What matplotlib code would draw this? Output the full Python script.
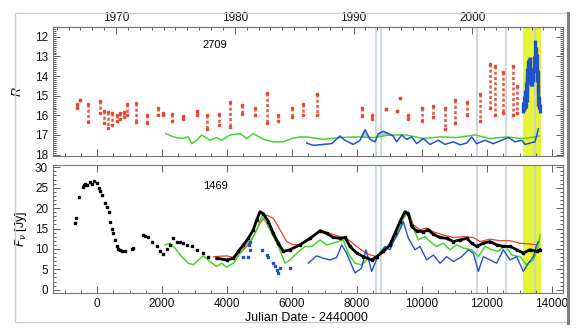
import numpy as np
import matplotlib.pyplot as plt
from matplotlib.ticker import MultipleLocator, FixedLocator
from matplotlib.patches import Rectangle
from matplotlib.lines import Line2D

plt.rcParams['font.family'] = ['Liberation Sans', 'DejaVu Sans']

# ---------------- top panel: R magnitudes (JD - 2440000) ----------------
# red photographic points, one streak per season (bright end, faint end)
red_jd = [-628, -523, -267, 92, 200, 330, 470, 600, 708, 830, 920, 1200, 1530,
          1880, 2040, 2300, 2650, 3070, 3380, 3740, 4090, 4460, 4860, 5230,
          5580, 6000, 6340, 6770, 8150, 8460, 8890, 9230, 9330, 9570, 10000,
          10340, 10700, 11020, 11380, 11780, 12090, 12250, 12500, 12800, 12920]
red_lo = [15.40, 15.20, 15.40, 15.25, 15.80, 15.85, 15.90, 16.00, 15.90, 15.85,
          15.40, 15.35, 16.00, 15.60, 15.90, 15.95, 16.05, 15.80, 16.00, 15.95,
          15.30, 15.45, 15.60, 14.85, 16.00, 15.60, 15.40, 14.90, 15.60, 16.00,
          15.70, 15.80, 15.10, 16.00, 15.60, 15.50, 15.60, 15.20, 15.30, 14.90,
          13.40, 13.50, 13.80, 13.50, 14.50]
red_hi = [15.65, 15.20, 16.35, 15.90, 16.40, 16.65, 16.50, 16.30, 16.20, 16.10,
          16.00, 16.35, 16.40, 16.00, 16.00, 16.30, 16.20, 16.00, 16.70, 16.50,
          16.60, 15.95, 16.00, 16.40, 16.30, 16.10, 16.00, 16.00, 16.05, 16.20,
          15.70, 15.80, 15.10, 16.20, 16.30, 16.10, 16.70, 16.40, 16.00, 16.30,
          15.60, 16.00, 15.90, 16.00, 15.90]

# blue CCD points inside the yellow band
blue_jd = [13117, 13145, 13170, 13195, 13220, 13245, 13272, 13298, 13323, 13350,
           13374, 13400, 13426, 13450, 13477, 13500, 13528, 13555, 13580, 13605, 13630]
blue_lo = [15.30, 15.00, 14.70, 14.30, 14.00, 13.60, 13.20, 13.10, 13.05, 13.60,
           14.00, 13.80, 13.60, 13.00, 12.17, 12.50, 12.90, 13.70, 14.40, 15.00, 15.40]
blue_hi = [15.90, 15.80, 15.70, 15.65, 15.30, 14.80, 14.40, 14.30, 14.30, 14.50,
           14.50, 14.30, 14.20, 13.80, 13.40, 13.80, 14.30, 14.90, 15.50, 15.70, 15.90]

# model light curves (mag)
grn_top_jd = [2113, 2350, 2605, 2810, 2914, 3067, 3221, 3477, 3683, 3836, 4092,
              4400, 4605, 4810, 5118, 5425, 5733, 5990, 6246, 6451, 6964, 7477,
              7990, 8502, 9015, 9528, 10040, 10550, 11067, 11630, 12090, 12606,
              13117, 13477, 13600]
grn_top_mag = [16.93, 17.10, 17.18, 17.10, 17.44, 17.27, 17.00, 17.27, 17.13,
               17.27, 17.00, 16.93, 17.18, 16.93, 17.22, 17.35, 17.35, 17.18,
               17.10, 17.10, 17.22, 17.13, 17.10, 17.13, 17.00, 17.00, 17.18,
               17.10, 17.13, 17.00, 17.18, 17.10, 17.18, 17.10, 17.05]

blu_top_jd = [6450, 6656, 6964, 7220, 7477, 7630, 7887, 8092, 8246, 8400, 8554,
              8656, 8810, 8963, 9117, 9220, 9374, 9528, 9682, 9836, 10040, 10246,
              10500, 10708, 10964, 11170, 11375, 11528, 11682, 11938, 12194,
              12400, 12656, 12862, 13067, 13170, 13323, 13477, 13580]
blu_top_mag = [17.41, 17.53, 17.48, 17.44, 17.05, 17.27, 17.48, 17.27, 16.73,
               17.22, 17.35, 16.93, 16.81, 16.93, 17.06, 17.35, 17.00, 17.22,
               17.10, 17.44, 17.18, 17.48, 17.27, 17.48, 17.35, 17.50, 17.41,
               17.10, 17.44, 17.27, 17.44, 17.30, 17.13, 17.35, 17.27, 17.48,
               17.41, 17.35, 16.68]

# ---------------- bottom panel: IR flux (Jy) ----------------
blk_sparse_jd = [-677, -660, -544, -442, -400, -380, -300, -230, -160, -100, -10,
                 50, 100, 150, 250, 300, 360, 400, 450, 500, 550, 605, 650, 707,
                 780, 860, 1067, 1117, 1425, 1480, 1580, 1680, 1836, 1938, 2040,
                 2143, 2246, 2348, 2450, 2550, 2656, 2780, 2913, 3067, 3274, 3426]
blk_sparse_f = [16.4, 17.6, 22.6, 25.1, 25.6, 26.0, 25.7, 26.5, 26.0, 26.7, 26.1,
                24.9, 24.2, 23.2, 21.2, 20.3, 19.1, 16.7, 15.0, 13.8, 12.2, 10.6,
                10.0, 9.8, 9.6, 9.4, 10.0, 10.2, 13.4, 13.1, 13.0, 11.8, 10.6, 9.4,
                8.8, 9.9, 11.0, 12.6, 11.8, 11.6, 11.4, 11.0, 10.6, 9.8, 9.0, 8.1]

blk_jd = [3682, 3990, 4195, 4350, 4503, 4657, 4810, 4913, 5016, 5118, 5272, 5425,
          5580, 5733, 5938, 6246, 6553, 6860, 7067, 7272, 7477, 7630, 7784, 7990,
          8195, 8451, 8605, 8810, 9015, 9170, 9323, 9477, 9580, 9682, 9836,
          10040, 10194, 10348, 10553, 10758, 10964, 11170, 11375, 11528, 11682,
          11887, 12092, 12297, 12502, 12707, 12913, 13117, 13323, 13528, 13630]
blk_f = [7.7, 7.3, 7.7, 9.4, 11.0, 12.6, 14.7, 17.1, 19.1, 18.6, 16.7, 13.8, 11.4,
         9.4, 9.8, 11.0, 12.6, 14.4, 13.8, 12.8, 12.6, 12.8, 10.6, 9.0, 8.1, 7.3,
         8.1, 9.4, 11.0, 13.8, 16.7, 19.1, 18.6, 15.5, 14.4, 14.2, 14.7, 13.6,
         12.8, 12.6, 11.8, 12.2, 12.6, 11.4, 10.6, 11.4, 11.8, 11.0, 10.6, 10.6,
         9.8, 9.0, 9.8, 9.4, 9.8]

red_jd_b = [3580, 3990, 4195, 4400, 4605, 4810, 5016, 5220, 5425, 5630, 5835,
            6040, 6246, 6553, 6860, 7170, 7477, 7682, 7990, 8298, 8605, 8913,
            9220, 9425, 9580, 9733, 9938, 10144, 10348, 10656, 10964, 11272,
            11580, 11784, 12092, 12400, 12707, 13015, 13323, 13528]
red_f_b = [8.1, 8.3, 7.9, 8.9, 10.6, 13.0, 16.3, 18.3, 17.5, 14.7, 11.8, 11.0,
           11.0, 12.2, 14.7, 13.8, 13.0, 12.6, 10.6, 8.8, 8.1, 9.8, 15.1, 18.3,
           19.1, 15.9, 14.7, 15.1, 14.2, 13.4, 12.8, 13.0, 12.8, 11.8, 12.4,
           12.0, 12.0, 11.4, 11.2, 11.0]

grn_jd_b = [2092, 2246, 2400, 2605, 2810, 2963, 3118, 3274, 3477, 3683, 3836,
            3990, 4195, 4400, 4605, 4760, 4913, 5067, 5220, 5374, 5580, 5784,
            5938, 6143, 6400, 6605, 6860, 7067, 7272, 7580, 7733, 7938, 8143,
            8349, 8554, 8760, 9015, 9220, 9425, 9580, 9733, 9887, 10092, 10246,
            10450, 10656, 10860, 11067, 11272, 11528, 11733, 11938, 12143, 12348,
            12553, 12758, 13015, 13220, 13426, 13580, 13630]
grn_f_b = [11.0, 11.4, 10.2, 8.1, 6.5, 6.1, 7.3, 8.3, 6.9, 5.7, 6.5, 5.5, 6.5,
           8.9, 11.4, 12.2, 14.7, 17.9, 16.3, 13.8, 10.6, 6.5, 7.3, 8.9, 10.6,
           10.6, 12.2, 11.0, 11.4, 12.2, 8.9, 6.5, 6.1, 7.7, 7.3, 9.8, 10.6,
           13.0, 17.5, 19.1, 15.1, 12.2, 13.0, 11.8, 10.6, 11.4, 9.8, 11.0,
           10.2, 9.8, 8.1, 10.6, 9.8, 9.4, 11.0, 8.5, 8.1, 6.1, 7.3, 10.6, 13.4]

blu_jd_b = [6502, 6758, 6964, 7170, 7375, 7528, 7682, 7938, 8143, 8277, 8451,
            8656, 8862, 9015, 9170, 9323, 9425, 9580, 9785, 9938, 10144, 10348,
            10553, 10758, 10964, 11220, 11426, 11580, 11733, 11887, 12092, 12297,
            12502, 12707, 12913, 13117, 13272, 13426, 13528, 13580]
blu_f_b = [6.5, 8.3, 7.7, 7.3, 7.9, 11.0, 8.9, 4.1, 5.3, 9.8, 4.5, 8.5, 10.6,
           9.8, 12.6, 14.7, 16.7, 12.6, 9.8, 10.6, 7.3, 8.5, 6.5, 8.1, 6.9, 8.1,
           9.8, 8.9, 4.5, 8.1, 7.3, 6.5, 9.8, 7.3, 8.1, 4.5, 6.5, 8.1, 11.0, 11.8]

blu_pts_jd = [4503, 4657, 4680, 4708, 4720, 5067, 5220, 5270, 5425, 5478, 5530,
              5580, 5630, 5938]
blu_pts_f = [8.1, 8.1, 11.0, 9.8, 11.8, 9.8, 8.6, 8.1, 6.5, 5.7, 4.9, 4.1, 5.3, 5.3]

band = (13120, 13650)
vlines_jd = [8590, 8740, 11700, 12580, 13480]

RED = '#e8412c'
BLUE = '#2152cc'
GREEN = '#46d52c'
YELLOW = '#e6f43a'
VL = '#c2cfd8'

fig = plt.figure(figsize=(5.85, 3.36), dpi=100)
W, H = 585, 336
ax1 = fig.add_axes([53 / W, 1 - 156 / H, 510 / W, 129 / H])
ax2 = fig.add_axes([53 / W, 1 - 293 / H, 510 / W, 128 / H])

for ax in (ax1, ax2):
    ax.axvspan(band[0], band[1], color=YELLOW, lw=0, zorder=0)
    for v in vlines_jd:
        ax.axvline(v, color=VL, lw=1.1, zorder=0.5)
    ax.set_xlim(-1354, 14338)
    ax.xaxis.set_major_locator(MultipleLocator(2000))
    ax.xaxis.set_minor_locator(MultipleLocator(500))
    ax.tick_params(which='both', direction='in', right=True, colors='#444444',
                   labelsize=8.5, labelcolor='#111111', width=0.6)
    ax.tick_params(which='major', length=5)
    ax.tick_params(which='minor', length=2.5)
    for s in ax.spines.values():
        s.set_color('#777777')
        s.set_linewidth(0.8)

# top panel
ax1.vlines(red_jd, red_lo, red_hi, color=RED, lw=1.8, linestyles=(0, (1.2, 0.9)),
           alpha=0.9, zorder=3)
ax1.plot(red_jd + red_jd, red_lo + red_hi, 's', color=RED, ms=1.6, alpha=0.9, zorder=3)
ax1.vlines(blue_jd, blue_lo, blue_hi, color=BLUE, lw=2.4, zorder=3)
g_at_b = np.interp(blu_top_jd, grn_top_jd, grn_top_mag)
ax1.fill_between(blu_top_jd, blu_top_mag, g_at_b, where=np.array(blu_top_mag) < g_at_b,
                 interpolate=True, color='#b4c4f2', lw=0, zorder=1)
ax1.plot(grn_top_jd, grn_top_mag, color=GREEN, lw=1.1, zorder=2)
ax1.plot(blu_top_jd, blu_top_mag, color=BLUE, lw=1.1, zorder=2)
ax1.set_ylim(18.07, 11.5)
ax1.yaxis.set_major_locator(MultipleLocator(1))
ax1.yaxis.set_minor_locator(MultipleLocator(0.1))
ax1.tick_params(labelbottom=False, top=False)
ax1.set_ylabel('R', fontstyle='italic', fontsize=9, labelpad=8)
ax1.text(3630, 12.4, '2709', fontsize=8, ha='center', va='center')

yr = ax1.secondary_xaxis('top', functions=(lambda j: 1970 + (j - 587.5) / 365.25,
                                           lambda y: 587.5 + (y - 1970) * 365.25))
yr.xaxis.set_major_locator(FixedLocator([1970, 1980, 1990, 2000]))
yr.xaxis.set_minor_locator(MultipleLocator(1))
yr.tick_params(which='both', direction='in', colors='#444444', labelsize=8.5,
               labelcolor='#111111', width=0.6, pad=2)
yr.tick_params(which='major', length=5)
yr.tick_params(which='minor', length=2.5)
yr.spines['top'].set_color('#777777')

# bottom panel
ax2.plot(red_jd_b, red_f_b, color=RED, lw=0.9, zorder=2)
ax2.plot(grn_jd_b, grn_f_b, color=GREEN, lw=1.1, zorder=2)
ax2.plot(blu_jd_b, blu_f_b, color=BLUE, lw=1.0, zorder=2)
ax2.plot(blk_sparse_jd, blk_sparse_f, 's', color='black', ms=1.7, zorder=3)
ax2.plot(blk_jd, blk_f, color='black', lw=2.0, zorder=3)
ax2.plot(blk_jd, blk_f, 's', color='black', ms=1.8, zorder=3)
ax2.plot(blu_pts_jd, blu_pts_f, 's', color=BLUE, ms=1.6, zorder=3)
ax2.set_ylim(-0.8, 30.56)
ax2.yaxis.set_major_locator(MultipleLocator(5))
ax2.yaxis.set_minor_locator(MultipleLocator(1))
ax2.tick_params(top=True)
ax2.set_ylabel(r'$F_\nu$ [Jy]', fontsize=9, labelpad=4)
ax2.text(3630, 25.4, '1469', fontsize=8, ha='center', va='center')

fig.text(306 / W, 1 - 318 / H, 'Julian Date - 2440000', fontsize=9,
         ha='center', va='center')

# outer frame
fig.add_artist(Rectangle((15 / W, 1 - 322 / H), 553 / W, 309 / H, fill=False,
                         ec='#cccccc', lw=1, transform=fig.transFigure))
fig.add_artist(Line2D([568 / W, 568 / W], [1 - 323 / H, 1 - 13 / H],
                      color='#808080', lw=2.2, transform=fig.transFigure))

fig.savefig('out.png', dpi=100)
